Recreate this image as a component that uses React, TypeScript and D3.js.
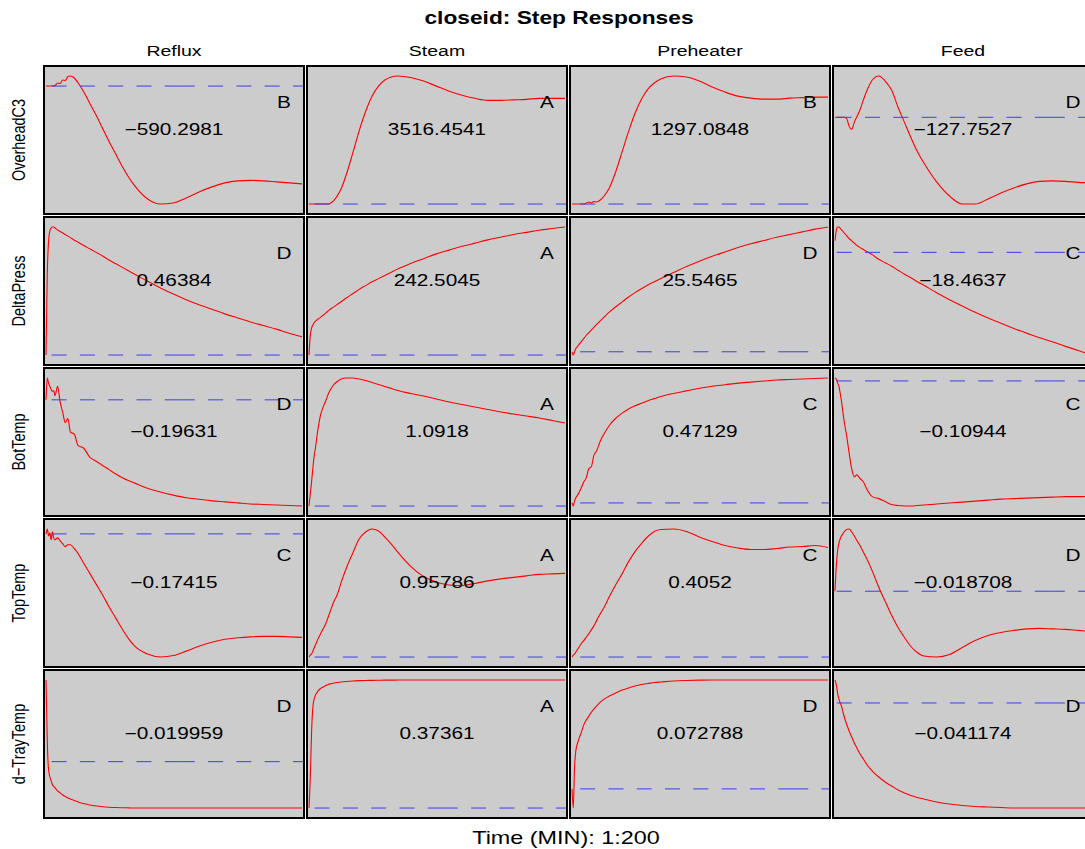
import React from "react";
import * as d3 from "d3";

// rows = measured outputs, columns = step inputs
const outputs = ["OverheadC3", "DeltaPress", "BotTemp", "TopTemp", "d\u2212TrayTemp"];
const inputs = ["Reflux", "Steam", "Preheater", "Feed"];

// sample times (1:200), denser at the start where the responses move fast
const times = [1, 2, 3, 4, 5, 6, 7, 8, 10, 12, 14, 16, 18, 20, 23, 26, 30, 35, 40, 45, 50, 55, 60, 65, 70, 80, 90, 100, 110, 120, 130, 140, 150, 160, 170, 180, 190, 200];

const gains = [
  ["\u2212590.2981", "3516.4541", "1297.0848", "\u2212127.7527"],
  ["0.46384", "242.5045", "25.5465", "\u221218.4637"],
  ["\u22120.19631", "1.0918", "0.47129", "\u22120.10944"],
  ["\u22120.17415", "0.95786", "0.4052", "\u22120.018708"],
  ["\u22120.019959", "0.37361", "0.072788", "\u22120.041174"],
];

const grades = [
  ["B", "A", "B", "D"],
  ["D", "A", "D", "C"],
  ["D", "A", "C", "C"],
  ["C", "A", "C", "D"],
  ["D", "A", "D", "D"],
];

// step responses (relative units, 0 = before the step)
const overheadReflux = [0, 0, 0, 0, 0, 0, 0, 0.5, 3, 2.5, 6, 5.5, 9.5, 10, 8, 3, -5, -17, -29, -42, -55, -67, -79, -90, -99, -112, -117, -116, -111, -105, -100, -96, -94, -93.5, -94, -95, -96, -97];
const overheadSteam = [0, 0, 0, 0, 0, 0, 0, 0, 0, 0, 0, 0, 1, 3, 8, 15, 29, 50, 72, 91, 106, 116, 122, 125, 126, 124.5, 121, 116, 111, 107, 104, 102, 102, 102.5, 103, 104, 104, 104];
const overheadPreheater = [0, 0, 0, 0, 0, 0, 0, 0, 0, 1, 2, 1, 2.5, 2, 4, 8, 16, 32, 52, 72, 90, 104, 114, 120, 124, 127, 126, 122, 116, 111, 107, 105, 104, 104, 105, 105.5, 106, 106];
const overheadFeed = [0, 0, 0, 0, 0, 0, 0, 0, -1, -9, -12, -5, 0.5, 6, 17, 27, 37, 41, 36, 27, 10, -5, -20, -34, -45, -64, -78, -86, -86, -81, -75, -70, -66, -63.5, -63, -63.5, -64.5, -65];

const pressReflux = [0, 80, 112, 122, 125, 126, 126, 125, 123, 121.5, 120, 118.5, 117, 115.5, 113, 111, 108, 104.5, 101, 97.5, 93.5, 90, 86.5, 83, 79.5, 72.5, 66, 60, 54.5, 49.5, 45, 40.5, 36.5, 32.5, 29, 25.5, 21.5, 18];
const pressSteam = [0, 18, 25, 28, 30, 31.5, 32.5, 33.5, 35, 37, 39, 41, 43, 44.5, 47, 49.5, 53, 57, 61, 64.5, 68, 71, 74, 77, 80, 85, 89.5, 94, 97.5, 101, 104, 107, 109.5, 112, 114, 116, 117.5, 119];
const pressPreheater = [0, -3, 0, 3, 4.5, 6, 7.5, 9, 12, 15, 17.5, 20, 22.5, 25, 28.5, 32, 36.5, 41.5, 46, 50.5, 54.5, 58, 61.5, 64.5, 67.5, 73, 78.5, 83.5, 88, 92, 96, 99.5, 102.5, 105.5, 108, 110.5, 113, 115];
const pressFeed = [10, 19, 22, 22, 21, 19.5, 18.5, 17, 14.5, 12, 10, 8, 6, 4.5, 2.5, 0.5, -2, -6, -9, -12, -15.5, -19, -22, -25.5, -28.5, -35, -41, -46.5, -52, -57, -61.5, -66, -70, -74, -77.5, -81.5, -85, -89];

const botReflux = [0, 21, 16, 13, 10, 8, 9, 4, 13, -2, -12, -22, -18, -31, -33, -44, -46, -55, -59, -63, -67, -71, -74.5, -77.5, -80, -85, -88.5, -91.5, -94, -95.5, -97, -98, -99, -100, -100.5, -101, -101.5, -102];
const botSteam = [0, 12, 24, 38, 50, 58, 68, 77, 91, 99, 105, 112, 117, 121, 124.5, 127, 128, 128, 127, 125.5, 123.5, 121.5, 119.5, 117.5, 115.5, 112.5, 110, 107, 104, 101.5, 99, 96.5, 94, 92, 90, 88, 85.5, 83];
const botPreheater = [0, -3, 2, 5, 7, 9, 11.5, 14, 20, 24, 33, 35, 46, 50, 60, 67, 75, 82, 87, 91, 94, 96.5, 99, 101, 103, 106, 108.5, 111, 113, 114.5, 116, 117, 118, 119, 119.5, 120, 120.5, 121];
const botFeed = [3, 2, -2, -5, -12, -20, -30, -40, -55, -73, -89, -97, -95, -98, -102, -110, -117, -119, -122, -125, -126, -126.5, -126.5, -126, -125.5, -124.5, -123.5, -122.5, -121.5, -120.5, -119.5, -119, -118.5, -118, -117.5, -117, -117, -116.5];

const topReflux = [0, 5, -2, 1, -6, 2, -4, -6, -4, -7, -10, -13, -11, -11, -15, -20, -29, -40, -51, -62, -74, -85, -96, -106, -114, -122, -125, -123.5, -119, -114, -110, -107, -105.5, -104.5, -104, -104, -104.5, -105];
const topSteam = [0, 2, 3, 6, 9, 12, 15, 18, 23, 28, 33, 40, 47, 54, 62, 74, 88, 103, 117, 124, 127, 125, 119, 112, 104, 90, 80, 74.5, 71.5, 71, 73, 75.5, 77.5, 79, 80.5, 82, 82.5, 83];
const topPreheater = [0, 2, 3, 5, 7, 9, 11, 13, 16, 19.5, 23, 27, 31, 36, 43, 49.5, 60, 72, 83, 95, 105, 113, 120, 125, 127, 127.5, 125, 119.5, 115, 111, 108.5, 107, 107, 108, 109.5, 110, 111, 109];
const topFeed = [0, 25, 40, 48, 52, 55, 57, 59, 61.5, 62, 59, 55, 50.5, 46.5, 39, 31.5, 20, 4, -10, -24, -36, -46, -55, -61, -64.5, -65.5, -63, -56, -49, -44, -41, -39, -37.5, -37, -37.5, -38, -39, -40];

const trayReflux = [81, 20, -8, -15, -19, -23, -24.5, -26, -29, -31, -33, -34.5, -36, -37, -38.5, -40, -41.5, -43, -44, -44.7, -45.2, -45.5, -45.7, -45.8, -46, -46, -46, -46, -46, -46, -46, -46, -46, -46, -46, -46, -46, -46];
const traySteam = [0, 30, 75, 100, 108, 112, 114, 116, 118.5, 120, 121.5, 122.5, 123.2, 123.8, 124.5, 125, 125.5, 126, 126.3, 126.5, 126.6, 126.7, 126.8, 126.8, 126.9, 127, 127, 127, 127, 127, 127, 127, 127, 127, 127, 127, 127, 127];
const trayPreheater = [0, -19, 22, 38, 44, 48, 52, 55, 63, 68, 72, 76, 79, 82, 86, 89, 92, 95, 98, 100, 102, 103.5, 104.5, 105.5, 106, 107, 107.5, 107.8, 108, 108, 108, 108, 108, 108, 108, 108, 108, 108];
const trayFeed = [23, 18, 10, 4, 0, -3, -8, -13, -21, -28, -34, -40, -45, -50, -56, -62, -68, -74, -79, -83, -87, -90, -92.5, -94.5, -96, -99, -101, -102.5, -103.5, -104, -104.5, -105, -105, -105, -105, -105, -105, -105];

const responses = [
  [overheadReflux, overheadSteam, overheadPreheater, overheadFeed],
  [pressReflux, pressSteam, pressPreheater, pressFeed],
  [botReflux, botSteam, botPreheater, botFeed],
  [topReflux, topSteam, topPreheater, topFeed],
  [trayReflux, traySteam, trayPreheater, trayFeed],
];

// where the zero reference line is broken in two (sample index), per column
const zeroSplit = [105, 105, 173, 168];

const W = 1085;
const H = 849;
const SX = 1.3; // the original picture is stretched sideways
const font = "'Liberation Sans', Arial, Helvetica, sans-serif";

export default function App() {
  const colScale = d3.scaleBand<string>().domain(inputs).range([44, 1093]).paddingInner(3 / 263);
  const rowScale = d3.scaleBand<string>().domain(outputs).range([66, 818]).paddingInner(3 / 151);
  const cw = colScale.bandwidth();
  const rh = rowScale.bandwidth();

  return (
    <div style={{ position: "absolute", left: 0, top: 0, width: W, height: H, overflow: "hidden", background: "#fff" }}>
      <svg width={W} height={H} fontFamily={font}>
        <defs>
          {outputs.map((o, r) =>
            inputs.map((inp, c) => (
              <clipPath id={`clip-${r}-${c}`} key={`${r}-${c}`}>
                <rect x={colScale(inp)} y={rowScale(o)} width={cw} height={rh} />
              </clipPath>
            ))
          )}
        </defs>

        <text transform={`translate(559,24) scale(${SX},1)`} textAnchor="middle" fontWeight="bold" fontSize={17.5}>
          closeid: Step Responses
        </text>

        {inputs.map((inp) => (
          <text key={inp} transform={`translate(${colScale(inp)! + cw / 2},56) scale(${SX},1)`} textAnchor="middle" fontSize={15}>
            {inp}
          </text>
        ))}

        {outputs.map((o) => (
          <text key={o} transform={`translate(25,${rowScale(o)! + rh / 2}) scale(${SX},1) rotate(-90)`} textAnchor="middle" fontSize={14.5}>
            {o}
          </text>
        ))}

        {outputs.map((o, r) =>
          inputs.map((inp, c) => {
            const x0 = colScale(inp)!;
            const y0 = rowScale(o)!;
            const vals = responses[r][c];
            const [lo, hi] = d3.extent([...vals, 0]) as [number, number];
            const pad = (hi - lo) * 0.07;
            const x = d3.scaleLinear().domain([1, 200]).range([x0 + 2, x0 + cw - 2]);
            const y = d3.scaleLinear().domain([lo - pad, hi + pad]).range([y0 + rh - 1, y0 + 1]);
            const line = d3
              .line<number>()
              .x((_, i) => x(times[i]))
              .y((v) => y(v))
              .curve(d3.curveMonotoneX);
            const xs = x(zeroSplit[c]);
            return (
              <g key={`${r}-${c}`}>
                <rect x={x0} y={y0} width={cw} height={rh} fill="#cccccc" />
                <g clipPath={`url(#clip-${r}-${c})`}>
                  <path d={line(vals) ?? ""} fill="none" stroke="#ff0000" strokeWidth={1.1} />
                  <line x1={xs} x2={x0} y1={y(0)} y2={y(0)} stroke="#3c3cf0" strokeWidth={1} strokeDasharray="15,13.3" />
                  <line x1={xs} x2={x0 + cw} y1={y(0)} y2={y(0)} stroke="#3c3cf0" strokeWidth={1} strokeDasharray="15,13.3" />
                </g>
                <text transform={`translate(${x0 + cw / 2},${y0 + 69}) scale(${SX},1)`} textAnchor="middle" fontSize={16}>
                  {gains[r][c]}
                </text>
                <text transform={`translate(${x0 + 240},${y0 + 42}) scale(${SX},1)`} textAnchor="middle" fontSize={16}>
                  {grades[r][c]}
                </text>
                <rect x={x0} y={y0} width={cw} height={rh} fill="none" stroke="#000" strokeWidth={2} />
              </g>
            );
          })
        )}

        <text transform={`translate(566,844) scale(${SX},1)`} textAnchor="middle" fontSize={18}>
          Time (MIN): 1:200
        </text>
      </svg>
    </div>
  );
}
